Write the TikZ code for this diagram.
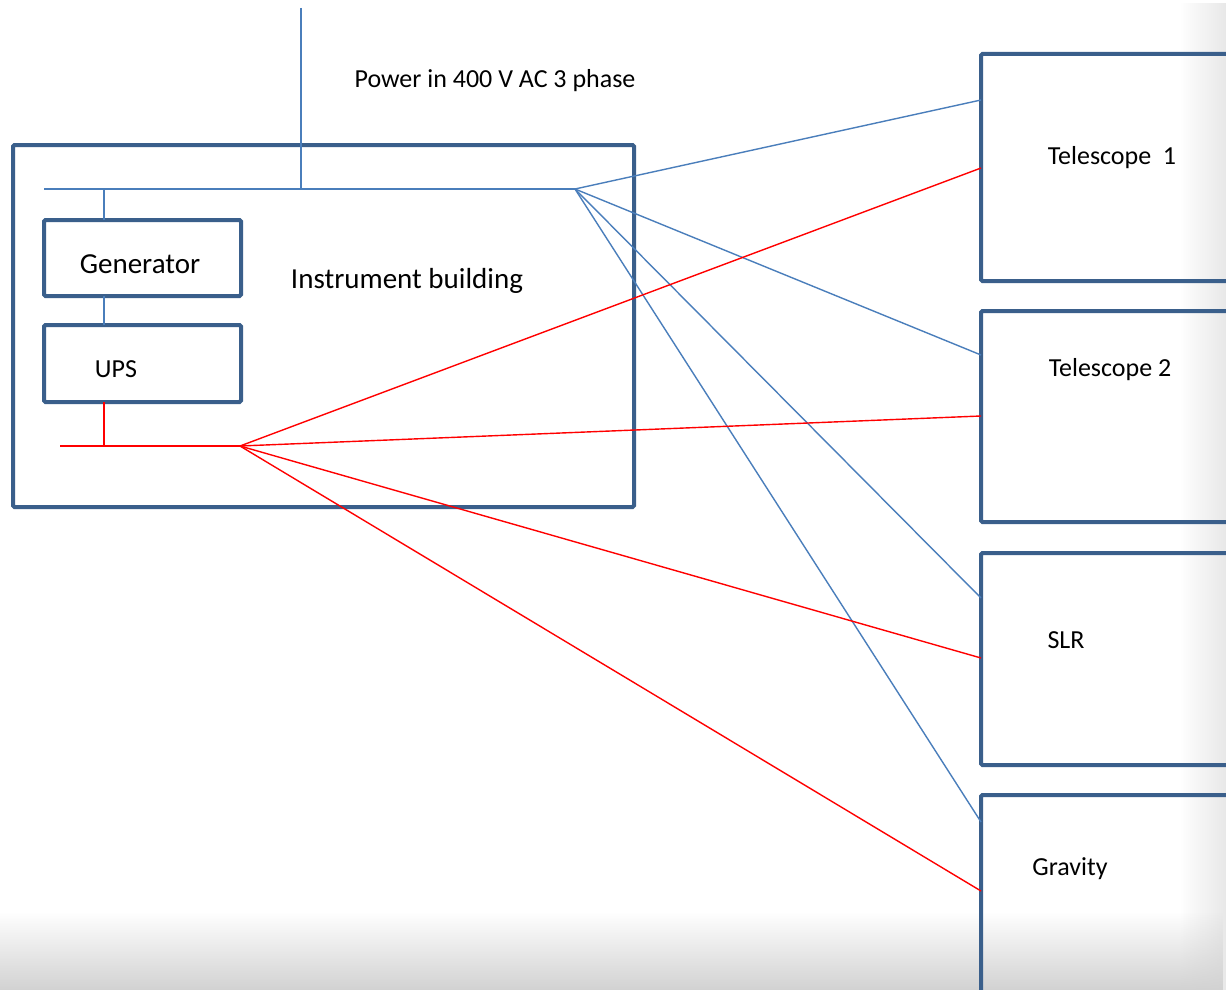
\documentclass[tikz,border=0pt]{standalone}
\usepackage{fontspec}
\setmainfont{Carlito}
\usetikzlibrary{fadings}
\definecolor{boxc}{HTML}{3A5F8B}
\definecolor{linec}{HTML}{4A7EBB}
\definecolor{redc}{HTML}{FF0000}
\definecolor{shadec}{HTML}{D2D2D2}
\definecolor{shader}{HTML}{E8E8E8}
\tikzfading[name=fadebot, top color=transparent!100, bottom color=transparent!0]
\tikzfading[name=faderight, left color=transparent!100, right color=transparent!0]
\begin{document}
\begin{tikzpicture}[x=1pt,y=-1pt,
  bigbox/.style={draw=boxc, line width=4pt, rounded corners=1.5pt, anchor=north west, inner sep=0pt, outer sep=0pt},
  bline/.style={draw=linec, line width=1.4pt},
  rline/.style={draw=redc, line width=1.4pt},
  lbl/.style={font=\fontsize{26}{30}\selectfont, inner sep=0pt, anchor=base},
  lblbig/.style={font=\fontsize{29}{33}\selectfont, inner sep=0pt, anchor=base}]
\clip (0,0) rectangle (1226,990);
\fill[white] (0,0) rectangle (1226,990);
% shading
\fill[shader, path fading=faderight] (1180,0) rectangle (1226,990);
\fill[shadec, path fading=fadebot] (0,912) rectangle (1226,990);
% building
\node[bigbox, minimum width=621, minimum height=362] (bld) at (13,145) {};
\node[bigbox, minimum width=197, minimum height=76] (gen) at (44,220) {};
\node[bigbox, minimum width=197, minimum height=77] (ups) at (44,325) {};
% right boxes
\node[bigbox, minimum width=300, minimum height=227] (t1) at (981,54) {};
\node[bigbox, minimum width=300, minimum height=211] (t2) at (981,311) {};
\node[bigbox, minimum width=300, minimum height=212] (slr) at (981,553) {};
\node[bigbox, minimum width=300, minimum height=260] (grv) at (981,795) {};
% texts
\node[lbl] (pwrtxt) at (495,88) {Power in 400 V AC 3 phase};
\node[lblbig] (gentxt) at (140,273) {Generator};
\node[lbl] (upstxt) at (116,377) {UPS};
\node[lblbig] (bldtxt) at (407,288) {Instrument building};
\node[lbl] (t1txt) at (1112,164) {Telescope\ \ 1};
\node[lbl] (t2txt) at (1110,376) {Telescope 2};
\node[lbl] (slrtxt) at (1066,648) {SLR};
\node[lbl] (grvtxt) at (1070,875) {Gravity};
% coordinates
\coordinate (pwr) at (301,8);
\coordinate (pj) at (301,189);
\coordinate (busl) at (44,189);
\coordinate (gj) at (104,189);
\coordinate (bhub) at (575,189);
\coordinate (rbusl) at (60,446);
\coordinate (rhub) at (240,446);
\coordinate (t1b) at (981,100);
\coordinate (t1r) at (981,168);
\coordinate (t2b) at (981,355);
\coordinate (t2r) at (981,416);
\coordinate (slrb) at (981,598);
\coordinate (slrr) at (981,658);
\coordinate (grvb) at (981,822);
\coordinate (grvr) at (981,891);
% blue network
\draw[bline] (pwr) -- (pj);
\draw[bline] (busl) -- (bhub);
\draw[bline] (gj) -- (gj |- gen.north);
\draw[bline] (gen.south -| gj) -- (ups.north -| gj);
\draw[bline] (bhub) -- (t1b);
\draw[bline] (bhub) -- (t2b);
\draw[bline] (bhub) -- (slrb);
\draw[bline] (bhub) -- (grvb);
% red network
\draw[rline] (ups.south -| gj) -- (gj |- rhub);
\draw[rline] (rbusl) -- (rhub);
\draw[rline] (rhub) -- (t1r);
\draw[rline] (rhub) -- (t2r);
\draw[rline] (rhub) -- (slrr);
\draw[rline] (rhub) -- (grvr);
\end{tikzpicture}
\end{document}
